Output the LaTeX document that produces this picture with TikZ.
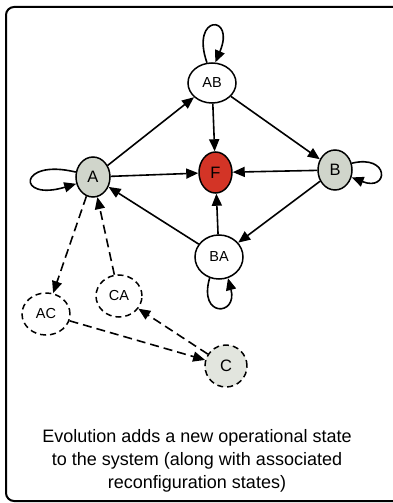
\documentclass[tikz,border=0pt]{standalone}
\usepackage{fontspec}
\setmainfont{Liberation Sans}
\usetikzlibrary{shapes.geometric,arrows.meta}
\definecolor{opgray}{RGB}{208,213,203}
\definecolor{newgray}{RGB}{226,229,222}
\definecolor{failred}{RGB}{211,52,38}
\tikzset{
  state/.style={ellipse, draw=black, line width=1.5pt, inner sep=0pt,
    font=\fontsize{14.5}{16}\selectfont},
  single/.style={font=\fontsize{16.5}{18}\selectfont},
  opstate/.style={state, single, fill=opgray},
  newstate/.style={state, dashed, dash pattern=on 6pt off 4pt},
  edge/.style={line width=1.6pt, -{Triangle[length=12pt,width=10pt]}},
  dedge/.style={edge, dash pattern=on 9pt off 5pt},
}
\begin{document}
\begin{tikzpicture}[x=1pt,y=-1pt]
\useasboundingbox (0,0) rectangle (393,503);
% outer frame, running off the right and bottom edges
\begin{scope}
\clip (0,0) rectangle (393,503);
\draw[line width=2pt, rounded corners=8pt] (6,7) rectangle (420,501);
\end{scope}

% states
\node[state, minimum width=48pt, minimum height=40pt] (AB) at (212,83) {AB};
\node[state, single, fill=failred, minimum width=33pt, minimum height=41pt] (F) at (215.5,172.5) {F};
\node[opstate, minimum width=34pt, minimum height=40pt] (A) at (93,177) {A};
\node[opstate, minimum width=34pt, minimum height=40pt] (B) at (335,170) {B};
\node[state, minimum width=48pt, minimum height=44pt] (BA) at (219,257) {BA};
\node[newstate, minimum width=46pt, minimum height=42pt] (CA) at (119,296) {CA};
\node[newstate, minimum width=48pt, minimum height=42pt] (AC) at (46,314) {AC};
\node[newstate, single, fill=newgray, minimum width=42pt, minimum height=42pt] (C) at (226,366) {C};

% transitions
\draw[edge] (A) -- (AB);
\draw[edge] (AB) -- (F);
\draw[edge] (AB) -- (B);
\draw[edge] (A) -- (F);
\draw[edge] (B) -- (F);
\draw[edge] (B) -- (BA);
\draw[edge] (BA) -- (F);
\draw[edge] (BA) -- (A);

% self loops
\draw[edge] (AB.104) .. controls (190,14) and (236,14) .. (AB.81);
\draw[edge] (A.164) .. controls (18,158) and (16,202) .. (A.202);
\draw[edge] (B.22) .. controls (390,154) and (389,192) .. (B.336);
\draw[edge] (BA.246) .. controls (198,318) and (238,316) .. (BA.293);

% reconfiguration transitions through the new state
\draw[dedge] (A) -- (AC);
\draw[dedge] (CA) -- (A);
\draw[dedge] (AC) -- (C);
\draw[dedge] (C) -- (CA);

% caption
\node[align=center, font=\fontsize{18}{23}\selectfont] (cap) at (197,461)
  {Evolution adds a new operational state\\to the system (along with associated\\reconfiguration states)};
\end{tikzpicture}
\end{document}
